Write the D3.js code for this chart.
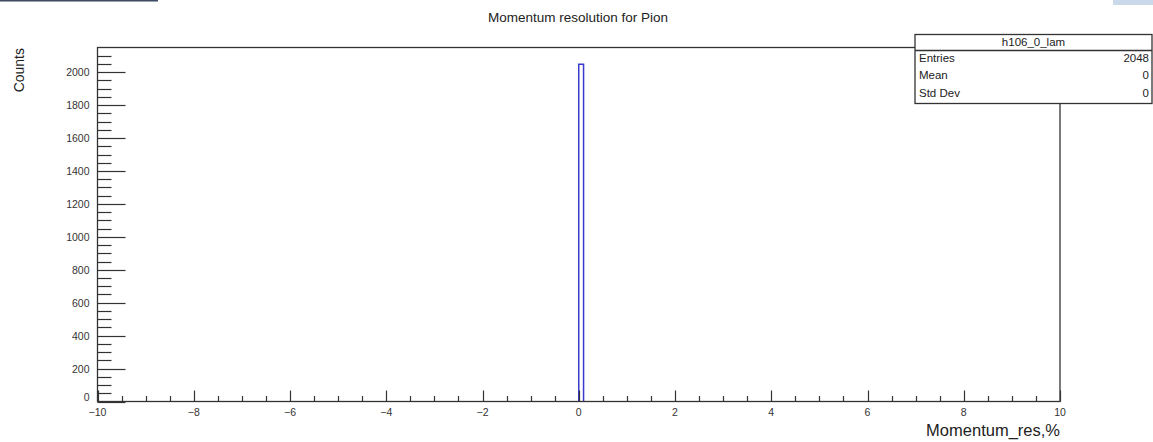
<!DOCTYPE html>
<html><head><meta charset="utf-8">
<script src="https://cdn.jsdelivr.net/npm/d3@7"></script>
<style>body{margin:0;background:#fff;}svg{display:block;font-family:"Liberation Sans",Arial,sans-serif;}</style>
</head><body><svg id="c" width="1153" height="442"></svg>
<script>
const binEdges = [0, 0.1];
const binCounts = [2048];
const xMajorTicks = [-10, -8, -6, -4, -2, 0, 2, 4, 6, 8, 10];
const yMajorTicks = [0, 200, 400, 600, 800, 1000, 1200, 1400, 1600, 1800, 2000];
const statsLabels = ["Entries", "Mean", "Std Dev"];
const statsValues = ["2048", "0", "0"];
const histName = "h106_0_lam";
const titleText = "Momentum resolution for Pion";
const xTitle = "Momentum_res,%";
const yTitle = "Counts";

const svg = d3.select("#c");
const L = 97.5, R = 1060, T = 47.5, B = 401.5;
const x = d3.scaleLinear().domain([-10, 10]).range([L, R]);
const y = d3.scaleLinear().domain([0, 2150.4]).range([B, T]);

// screenshot artifacts
svg.append("rect").attr("x",0).attr("y",0).attr("width",158).attr("height",1.5).attr("fill","#3b4b62");
svg.append("rect").attr("x",1113).attr("y",0).attr("width",40).attr("height",5).attr("fill","#c9d9ea");

// title
svg.append("text").attr("x",578).attr("y",22).attr("text-anchor","middle").attr("font-size",13.5).attr("fill","#222").text(titleText);

// histogram
const g = svg.append("g");
binCounts.forEach((c,i)=>{
  const x0 = x(binEdges[i]), x1 = x(binEdges[i+1]);
  g.append("path").attr("d",`M${x0},${y(0)}V${y(c)}H${x1}V${y(0)}`)
   .attr("fill","none").attr("stroke","#3a3ad0").attr("stroke-width",1.5);
});

// frame
svg.append("rect").attr("x",L).attr("y",T).attr("width",R-L).attr("height",B-T)
  .attr("fill","none").attr("stroke","#333").attr("stroke-width",1.3);

// y axis ticks
const yMinor = d3.range(0, 2150, 50);
svg.selectAll(".ymin").data(yMinor).enter().append("line")
  .attr("x1",L).attr("x2",d=> d%200===0 ? L+28 : L+14)
  .attr("y1",d=>Math.round(y(d))+0.5).attr("y2",d=>Math.round(y(d))+0.5)
  .attr("stroke","#333").attr("stroke-width",1.2);
svg.selectAll(".ylab").data(yMajorTicks).enter().append("text")
  .attr("x",L-8).attr("y",d=>y(d)+ (d===0 ? -1 : 4)).attr("text-anchor","end")
  .attr("font-size",10.5).attr("fill","#333").text(d=>d);

// x axis ticks
const xMinor = d3.range(-10, 10.01, 0.5);
svg.selectAll(".xmin").data(xMinor).enter().append("line")
  .attr("x1",d=>Math.round(x(d))+0.5).attr("x2",d=>Math.round(x(d))+0.5)
  .attr("y1",B).attr("y2",d=> Math.abs(d/2-Math.round(d/2))<1e-9 ? B-11 : B-5.5)
  .attr("stroke","#333").attr("stroke-width",1.2);
svg.selectAll(".xlab").data(xMajorTicks).enter().append("text")
  .attr("x",d=>x(d)).attr("y",B+14).attr("text-anchor","middle")
  .attr("font-size",10.5).attr("fill","#333").text(d=> d<0 ? "\u2212"+Math.abs(d) : d);

// axis titles
svg.append("text").attr("x",R).attr("y",436).attr("text-anchor","end").attr("font-size",16.5).attr("fill","#222").text(xTitle);
svg.append("text").attr("transform","translate(24,48) rotate(-90)").attr("text-anchor","end").attr("font-size",14).attr("fill","#222").text(yTitle);

// stats box
const sx0 = 915, sx1 = 1152, sy0 = 34.5, sy1 = 103.5, sh = 50.5;
svg.append("rect").attr("x",sx0).attr("y",sy0).attr("width",sx1-sx0).attr("height",sy1-sy0)
  .attr("fill","#fff").attr("stroke","#333").attr("stroke-width",1.3);
svg.append("line").attr("x1",sx0).attr("x2",sx1).attr("y1",sh).attr("y2",sh).attr("stroke","#333").attr("stroke-width",1.3);
svg.append("text").attr("x",(sx0+sx1)/2).attr("y",46).attr("text-anchor","middle").attr("font-size",11.5).attr("fill","#222").text(histName);
statsLabels.forEach((lab,i)=>{
  const yy = 62 + i*17.3;
  svg.append("text").attr("x",919).attr("y",yy).attr("font-size",11.5).attr("fill","#222").text(lab);
  svg.append("text").attr("x",1149).attr("y",yy).attr("text-anchor","end").attr("font-size",11.5).attr("fill","#222").text(statsValues[i]);
});
</script></body></html>
